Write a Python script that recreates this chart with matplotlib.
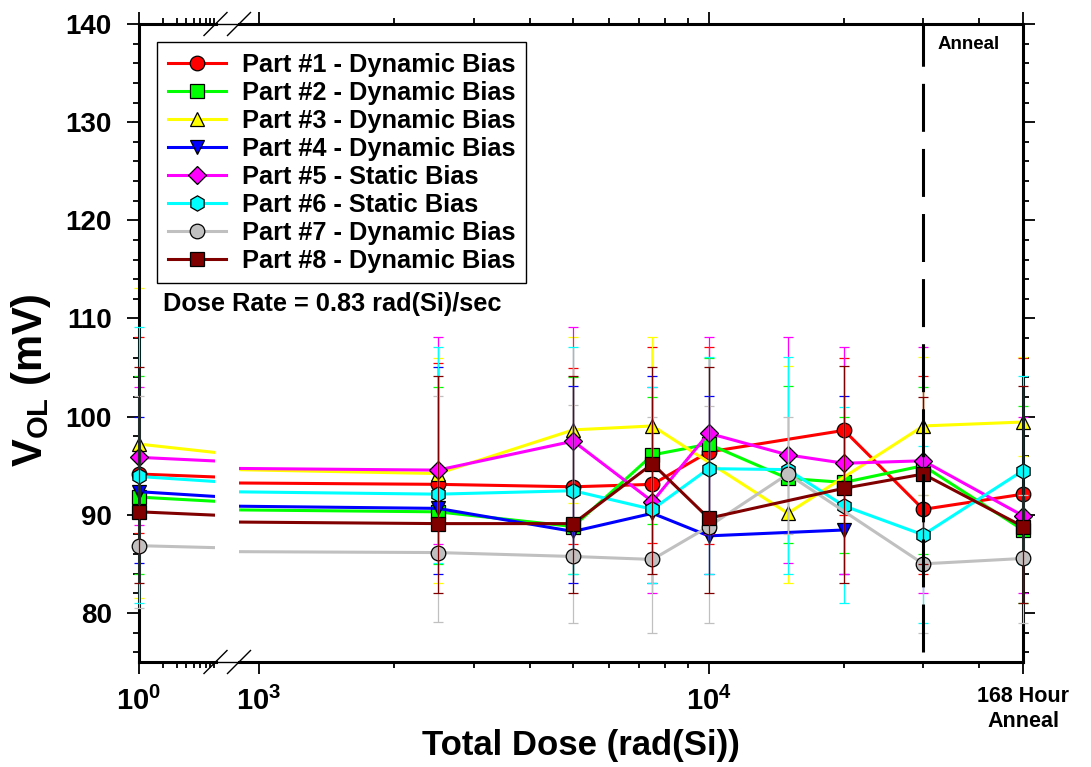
import numpy as np
import matplotlib
matplotlib.use('Agg')
import matplotlib.pyplot as plt
from matplotlib.lines import Line2D
from matplotlib.ticker import LogLocator, NullFormatter, MultipleLocator

plt.rcParams['font.family'] = ['Liberation Sans', 'DejaVu Sans']
plt.rcParams['font.weight'] = 'bold'
plt.rcParams['mathtext.fontset'] = 'custom'
plt.rcParams['mathtext.rm'] = 'Liberation Sans:bold'
plt.rcParams['mathtext.bf'] = 'Liberation Sans:bold'
plt.rcParams['mathtext.it'] = 'Liberation Sans:bold'
plt.rcParams['mathtext.default'] = 'rm'

nan = np.nan

# ---------------- data ----------------
dose = [1, 2500, 5000, 7500, 10000, 15000, 20000, 30000, 50000]   # last = 168 h anneal position
anneal_start = 30000

labels = ['Part #1 - Dynamic Bias', 'Part #2 - Dynamic Bias', 'Part #3 - Dynamic Bias',
          'Part #4 - Dynamic Bias', 'Part #5 - Static Bias', 'Part #6 - Static Bias',
          'Part #7 - Dynamic Bias', 'Part #8 - Dynamic Bias']
colors = ['#ff0000', '#00ff00', '#ffff00', '#0000ff', '#ff00ff', '#00ffff', '#c0c0c0', '#800000']
markers = ['o', 's', '^', 'v', 'D', 'h', 'o', 's']
msizes = [10.5, 9.5, 10.5, 10.5, 9.0, 11.0, 10.5, 9.5]

p1_mean = [94.15, 93.1, 92.85, 93.1, 96.4, nan, 98.6, 90.55, 92.1]
p1_hi = [108.1, 105.5, 105.0, 107.1, 107.1, nan, 106.0, 104.1, 106.0]
p1_lo = [88.1, 86.0, 87.0, 87.1, 87.0, nan, 90.0, 84.0, 86.0]

p2_mean = [91.8, 90.3, 88.8, 96.1, 97.2, 93.7, 93.3, 95.0, 88.45]
p2_hi = [104.1, 103.0, 104.0, 102.0, 106.0, 103.1, 100.0, 103.0, 101.1]
p2_lo = [84.0, 85.0, 84.0, 89.1, 88.0, 87.1, 86.1, 86.0, 81.0]

p3_mean = [97.2, 94.2, 98.65, 99.05, nan, 90.15, nan, 99.05, 99.45]
p3_hi = [113.1, 106.0, 108.1, 108.1, nan, 105.2, nan, 106.1, 106.1]
p3_lo = [81.5, 83.0, 91.2, 90.0, nan, 83.0, nan, 92.0, 96.0]

p4_mean = [92.35, 90.65, 88.3, 90.15, 87.85, nan, 88.45, nan, nan]
p4_hi = [100.0, 105.1, 103.1, 104.1, 102.1, nan, 102.1, nan, nan]
p4_lo = [85.05, 84.0, 83.0, 83.0, 84.0, nan, 84.0, nan, nan]

p5_mean = [95.85, 94.55, 97.5, 91.35, 98.3, 96.1, 95.25, 95.5, 89.9]
p5_hi = [103.0, 108.1, 109.1, 103.0, 108.1, 108.1, 107.1, 107.1, 100.0]
p5_lo = [89.0, 87.0, 85.5, 82.0, 88.0, 85.05, 84.0, 82.0, 82.0]

p6_mean = [93.9, 92.1, 92.45, 90.55, 94.7, 94.6, 90.9, 87.95, 94.5]
p6_hi = [109.1, 107.1, 107.1, 103.0, 106.1, 106.1, 101.0, 97.0, 104.1]
p6_lo = [81.0, 85.05, 84.0, 83.0, 84.0, 84.0, 81.05, 79.0, 85.0]

p7_mean = [86.85, 86.15, 85.75, 85.45, 88.8, 94.15, nan, 85.0, 85.55]
p7_hi = [102.1, 102.1, 101.15, 100.0, 101.1, 100.0, nan, 92.0, 92.0]
p7_lo = [80.5, 79.05, 79.0, 78.0, 79.0, 88.0, nan, 78.0, 79.0]

p8_mean = [90.3, 89.1, 89.1, 95.2, 89.65, nan, 92.7, 94.15, 88.8]
p8_hi = [105.1, 104.1, 104.1, 105.1, 105.1, nan, 105.2, 102.0, 103.1]
p8_lo = [83.0, 82.0, 82.0, 84.0, 82.0, nan, 83.0, 85.0, 81.05]

means = [p1_mean, p2_mean, p3_mean, p4_mean, p5_mean, p6_mean, p7_mean, p8_mean]
highs = [p1_hi, p2_hi, p3_hi, p4_hi, p5_hi, p6_hi, p7_hi, p8_hi]
lows = [p1_lo, p2_lo, p3_lo, p4_lo, p5_lo, p6_lo, p7_lo, p8_lo]

y_min, y_max = 75, 140
left_xlim = (1, 9.35)
right_xlim = (903, 50000)

# ---------------- figure ----------------
W, H = 1091, 767
fig = plt.figure(figsize=(W / 100, H / 100), dpi=100)
L, R, T, B = 139, 1023, 24, 662
bx1, bx2 = 215.5, 239
ax1 = fig.add_axes([L / W, 1 - B / H, (bx1 - L) / W, (B - T) / H])
ax2 = fig.add_axes([bx2 / W, 1 - B / H, (R - bx2) / W, (B - T) / H])
ax2.patch.set_alpha(0)

lw_sp = 2.2
for ax, xl in ((ax1, left_xlim), (ax2, right_xlim)):
    ax.set_xscale('log')
    ax.set_xlim(*xl)
    ax.set_ylim(y_min, y_max)
    ax.yaxis.set_major_locator(MultipleLocator(10))
    ax.yaxis.set_minor_locator(MultipleLocator(2))
    ax.xaxis.set_minor_locator(LogLocator(base=10, subs=np.arange(2, 10)))
    ax.xaxis.set_minor_formatter(NullFormatter())
    for sp in ax.spines.values():
        sp.set_linewidth(lw_sp)
    ax.tick_params(which='both', direction='out', width=1.3, top=True)
    ax.tick_params(which='major', length=8.5)
    ax.tick_params(which='minor', length=4.5)

ax1.spines['right'].set_visible(False)
ax2.spines['left'].set_visible(False)
ax1.tick_params(axis='y', which='both', left=True, right=False)
ax1.tick_params(axis='y', labelsize=20, pad=11)
ax2.tick_params(axis='y', which='both', left=False, right=True, labelleft=False)

ax1.set_xticks([1], labels=[r'$10^{0}$'])
ax2.set_xticks([1000, 10000, 50000], labels=[r'$10^{3}$', r'$10^{4}$', '168 Hour\nAnneal'])
for ax in (ax1, ax2):
    ax.tick_params(axis='x', labelsize=21, pad=9)
ax2.get_xticklabels()[2].set_fontsize(15.5)

x_arr = np.array(dose, dtype=float)


def draw(ax, xl):
    for i in range(len(means)):
        y = np.array(means[i], dtype=float)
        hi = np.array(highs[i], dtype=float)
        lo = np.array(lows[i], dtype=float)
        ok = ~np.isnan(y)
        z = 2 + i * 0.1
        ax.plot(x_arr[ok], y[ok], color=colors[i], lw=2.2, zorder=z, solid_capstyle='butt')
        ins = ok & (x_arr >= xl[0]) & (x_arr <= xl[1])
        ax.plot(x_arr[ins], y[ins], ls='none', marker=markers[i], ms=msizes[i],
                mfc=colors[i], mec='black', mew=0.9, zorder=z + 0.01, clip_on=False)
        eb = ax.errorbar(x_arr[ins], y[ins], yerr=[y[ins] - lo[ins], hi[ins] - y[ins]],
                         fmt='none', ecolor=colors[i], elinewidth=0.9, capsize=3.5,
                         capthick=0.9, zorder=z + 0.02)
        for art in eb.get_children():
            art.set_clip_on(False)
            art.set_zorder(z + 0.02)


draw(ax1, left_xlim)
draw(ax2, right_xlim)

# anneal marker line
ax2.axvline(anneal_start, ymin=(76 - y_min) / (y_max - y_min), ymax=1, color='black',
            lw=2.2, dashes=(15.7, 5.6), zorder=10)
ax2.annotate('Anneal', xy=(anneal_start, 1), xycoords=('data', 'axes fraction'),
             xytext=(10, -14.5), textcoords='offset points', ha='left', va='center',
             fontsize=13.5, fontweight='bold')

# axis break marks and thin connectors
d1 = 11.5 / (bx1 - L)
d2 = 11.5 / (R - bx2)
dy = 11.5 / (B - T)
for yy in (0, 1):
    ax1.plot([1 - d1, 1 + d1], [yy - dy, yy + dy], transform=ax1.transAxes, color='black',
             lw=1.0, clip_on=False, zorder=12)
    ax2.plot([-d2, d2], [yy - dy, yy + dy], transform=ax2.transAxes, color='black',
             lw=1.0, clip_on=False, zorder=12)
    fig.add_artist(Line2D([bx1 / W, bx2 / W], [1 - (B if yy == 0 else T) / H] * 2,
                          color='black', lw=1.0))

# legend
handles = [Line2D([], [], color=colors[i], lw=2.2, marker=markers[i], ms=msizes[i],
                  mfc=colors[i], mec='black', mew=0.9) for i in range(len(labels))]
leg = fig.legend(handles, labels, loc='upper left', bbox_to_anchor=(157 / W, 1 - 42 / H),
                 borderaxespad=0, fancybox=False, edgecolor='black', framealpha=1,
                 prop={'size': 18.3, 'weight': 'bold'}, handlelength=2.3, handletextpad=0.62,
                 labelspacing=0.157, borderpad=0.42)
leg.get_frame().set_linewidth(1.0)
leg.set_zorder(20)

fig.text(163 / W, 1 - 304 / H, 'Dose Rate = 0.83 rad(Si)/sec', fontsize=18.3,
         fontweight='bold', ha='left', va='center')

fig.text(((L + R) / 2) / W, 1 - 745 / H, 'Total Dose (rad(Si))', fontsize=25,
         fontweight='bold', ha='center', va='center')
fig.text(31 / W, 1 - 380 / H, r'V$_{\mathregular{OL}}$ (mV)', fontsize=30,
         fontweight='bold', ha='center', va='center', rotation=90)

fig.savefig('out.png', dpi=100)
